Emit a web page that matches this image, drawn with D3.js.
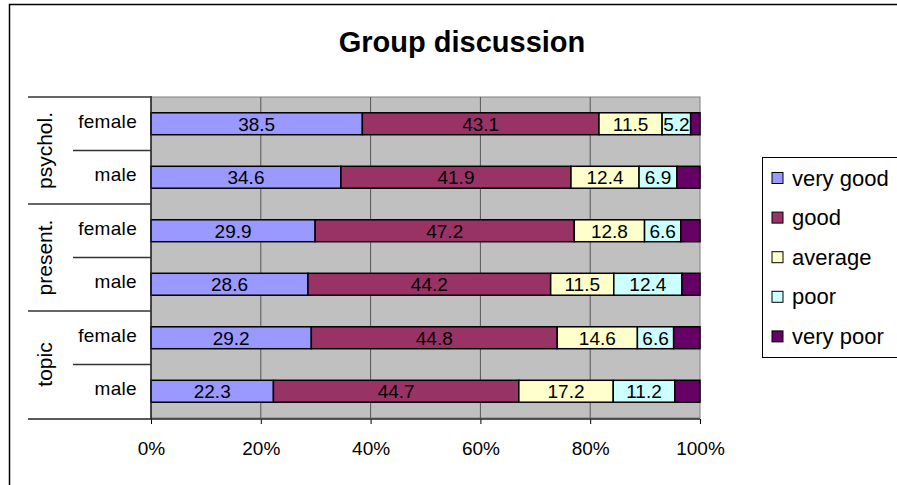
<!DOCTYPE html>
<html>
<head>
<meta charset="utf-8">
<script src="https://cdn.jsdelivr.net/npm/d3@7"></script>
<style>
  html, body { margin: 0; padding: 0; background: #fff; }
  svg { display: block; font-family: "Liberation Sans", Arial, sans-serif; }
</style>
</head>
<body>
<svg id="chart" width="897" height="485"></svg>
<script>
// Ratings of group discussion by topic area and gender (percent of answers)
const groups = ["psychol.", "present.", "topic"];
const genders = ["female", "male"];
const seriesNames = ["very good", "good", "average", "poor", "very poor"];
const seriesColors = ["#9999FF", "#993366", "#FFFFCC", "#CCFFFF", "#660066"];
const veryGood = [38.5, 34.6, 29.9, 28.6, 29.2, 22.3];
const good     = [43.1, 41.9, 47.2, 44.2, 44.8, 44.7];
const average  = [11.5, 12.4, 12.8, 11.5, 14.6, 17.2];
const poor     = [5.2, 6.9, 6.6, 12.4, 6.6, 11.2];
const veryPoor = [1.7, 4.2, 3.5, 3.3, 4.8, 4.6];
const labelledSeries = ["very good", "good", "average", "poor"];
const tickValues = [0, 20, 40, 60, 80, 100];

// one row per group/gender pair, top to bottom
const rows = [];
groups.forEach(g => genders.forEach(s => rows.push({ group: g, gender: s, key: g + "|" + s })));
const seriesValues = [veryGood, good, average, poor, veryPoor];
rows.forEach((r, i) => {
  seriesNames.forEach((n, j) => { r[n] = seriesValues[j][i]; });
});

const svg = d3.select("#chart");

// outer chart frame
svg.append("rect")
  .attr("x", 9.5).attr("y", 4.5).attr("width", 1000).attr("height", 1000)
  .attr("fill", "none").attr("stroke", "#000").attr("stroke-width", 1.5);

const plot = { left: 151, right: 700, top: 97, bottom: 418 };

const x = d3.scaleLinear().domain([0, 100]).range([plot.left, plot.right]);
const y = d3.scaleBand().domain(rows.map(r => r.key))
  .range([plot.top, plot.bottom]).paddingInner(0.59).paddingOuter(0.295);
const step = y.step();

// title
svg.append("text")
  .attr("x", 462).attr("y", 52)
  .attr("text-anchor", "middle")
  .attr("font-size", 29).attr("font-weight", "bold")
  .text("Group discussion");

// plot background
svg.append("rect")
  .attr("x", plot.left).attr("y", plot.top)
  .attr("width", plot.right - plot.left).attr("height", plot.bottom - plot.top)
  .attr("fill", "#C0C0C0").attr("stroke", "#808080").attr("stroke-width", 1);

// vertical gridlines
svg.append("g").selectAll("line")
  .data(tickValues.slice(1, -1))
  .join("line")
  .attr("x1", d => x(d)).attr("x2", d => x(d))
  .attr("y1", plot.top).attr("y2", plot.bottom)
  .attr("stroke", "#555").attr("stroke-width", 1);

// stacked bars
const stack = d3.stack().keys(seriesNames);
const stacked = stack(rows);

const barG = svg.append("g");
stacked.forEach((layer, j) => {
  const g = barG.append("g").attr("fill", seriesColors[j]);
  g.selectAll("rect")
    .data(layer)
    .join("rect")
    .attr("x", d => x(d[0]))
    .attr("y", d => y(d.data.key))
    .attr("width", d => x(d[1]) - x(d[0]))
    .attr("height", y.bandwidth())
    .attr("stroke", "#000").attr("stroke-width", 1.5);
});

// value labels
const labelG = svg.append("g")
  .attr("font-size", 19).attr("fill", "#000").attr("text-anchor", "middle");
stacked.forEach(layer => {
  if (!labelledSeries.includes(layer.key)) return;
  labelG.selectAll(null)
    .data(layer)
    .join("text")
    .attr("x", d => (x(d[0]) + x(d[1])) / 2)
    .attr("y", d => y(d.data.key) + y.bandwidth() / 2 + 7)
    .text(d => d.data[layer.key]);
});

// x axis
const xAxis = d3.axisBottom(x)
  .tickValues(tickValues)
  .tickFormat(d => d + "%")
  .tickSize(5)
  .tickPadding(18);
const axG = svg.append("g")
  .attr("transform", `translate(0,${plot.bottom + 1})`)
  .call(xAxis);
axG.select(".domain").remove();
axG.selectAll(".tick line").attr("stroke", "#000");
axG.selectAll(".tick text")
  .attr("font-size", 19)
  .attr("font-family", "Liberation Sans, Arial, sans-serif")
  .attr("fill", "#000");

// axis baseline across category labels and plot
svg.append("line")
  .attr("x1", 28).attr("x2", plot.right)
  .attr("y1", plot.bottom + 1).attr("y2", plot.bottom + 1)
  .attr("stroke", "#222").attr("stroke-width", 1.5);

// vertical axis line
svg.append("line")
  .attr("x1", plot.left).attr("x2", plot.left)
  .attr("y1", plot.top - 1).attr("y2", plot.bottom + 1)
  .attr("stroke", "#222").attr("stroke-width", 1.5);

// multi-level category axis: separators
const catG = svg.append("g").attr("stroke", "#333").attr("stroke-width", 1.5);
const groupEdges = groups.map((g, i) => plot.top + i * 2 * step);
catG.selectAll("line.major")
  .data(groupEdges)
  .join("line")
  .attr("class", "major")
  .attr("x1", 28).attr("x2", plot.left)
  .attr("y1", d => d).attr("y2", d => d);
catG.selectAll("line.minor")
  .data(groups.map((g, i) => plot.top + (i * 2 + 1) * step))
  .join("line")
  .attr("class", "minor")
  .attr("x1", 73).attr("x2", plot.left)
  .attr("y1", d => d).attr("y2", d => d);

// gender labels
svg.append("g")
  .attr("font-size", 19).attr("text-anchor", "end").attr("letter-spacing", 0.3)
  .selectAll("text")
  .data(rows)
  .join("text")
  .attr("x", 137)
  .attr("y", d => y(d.key) + y.bandwidth() / 2 + 4)
  .text(d => d.gender);

// group labels, rotated
svg.append("g")
  .attr("font-size", 21).attr("text-anchor", "middle")
  .selectAll("text")
  .data(groups)
  .join("text")
  .attr("transform", (d, i) => `translate(52,${plot.top + (i * 2 + 1) * step}) rotate(-90)`)
  .text(d => d);

// legend
const legend = svg.append("g");
legend.append("rect")
  .attr("x", 762.5).attr("y", 157.5).attr("width", 200).attr("height", 200)
  .attr("fill", "#fff").attr("stroke", "#000").attr("stroke-width", 1);
const item = legend.selectAll("g.item")
  .data(seriesNames)
  .join("g")
  .attr("class", "item")
  .attr("transform", (d, i) => `translate(0,${178 + i * 39.6})`);
item.append("rect")
  .attr("x", 772).attr("y", -5.5).attr("width", 11).attr("height", 11)
  .attr("fill", (d, i) => seriesColors[i])
  .attr("stroke", "#000").attr("stroke-width", 1);
item.append("text")
  .attr("x", 792).attr("y", 7.5)
  .attr("font-size", 22)
  .text(d => d);
</script>
</body>
</html>
